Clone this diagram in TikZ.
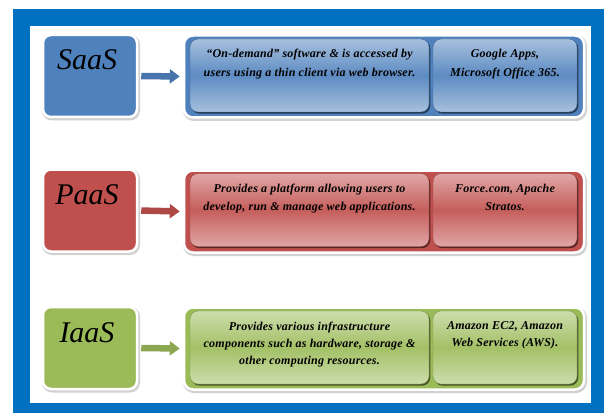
\documentclass[tikz,border=0pt]{standalone}
\usepackage{fontspec}
\setmainfont{Liberation Serif}
\usetikzlibrary{arrows.meta}
\definecolor{frameblue}{HTML}{0070C0}
\definecolor{sblue}{HTML}{4F81BD}
\definecolor{pred}{HTML}{C0504D}
\definecolor{igreen}{HTML}{9BBB59}
\begin{document}
\begin{tikzpicture}[x=1pt,y=-1pt,
  lbox/.style={rounded corners=8pt, fill=#1, draw=white, line width=2.5pt,
    minimum width=94pt, minimum height=82pt, inner sep=0pt,
    preaction={draw=black!18, line width=4pt, transform canvas={shift={(1pt,-1.5pt)}}}},
  rbox/.style={rounded corners=9pt, fill=#1, draw=white, line width=2.5pt,
    minimum width=400pt, minimum height=82pt, inner sep=0pt,
    preaction={draw=black!18, line width=4pt, transform canvas={shift={(1pt,-1.5pt)}}}},
  subbox/.style={rounded corners=8pt, top color=#1!50!white, bottom color=#1!50!white, middle color=#1!92!white,
    draw=#1!80!black, line width=0.4pt, inner sep=0pt, minimum height=73pt,
    preaction={fill=#1!45!black, transform canvas={shift={(1.3pt,-1.6pt)}}}},
  bigtxt/.style={font=\fontsize{30}{34}\selectfont\itshape, inner sep=0pt},
  smalltxt/.style={font=\fontsize{12}{#1}\selectfont\bfseries\itshape\addfontfeature{LetterSpace=2},
    align=center, inner sep=0pt, anchor=north},
  arr/.style={draw=#1!90!black, line width=6.5pt, shorten <=3pt, shorten >=3pt,
    -{Triangle[length=10pt,width=14pt]}}
]
\useasboundingbox (0,0) rectangle (604,414);
\fill[white] (0,0) rectangle (604,414);
\fill[frameblue] (13,9) rectangle (604,413);
\fill[white] (30,26) rectangle (591,403);

% SaaS row
\node[lbox=sblue] (saas) at (90,76) {};
\node[bigtxt] (saasT) at (87,60) {SaaS};
\node[rbox=sblue] (saasR) at (384,76.5) {};
\node[subbox=sblue, minimum width=239pt] (saasA) at (309.5,75.5) {};
\node[subbox=sblue, minimum width=144pt] (saasB) at (505,75.5) {};
\node[smalltxt=19] (saasAt) at (309.5,48.5) {“On-demand” software \& is accessed by\\users using a thin client via web browser.};
\node[smalltxt=19] (saasBt) at (505,48.5) {Google Apps,\\Microsoft Office 365.};
\draw[arr=sblue] (saas.east) -- (saasR.west);

% PaaS row
\node[lbox=pred] (paas) at (90,210.5) {};
\node[bigtxt] (paasT) at (87,195) {PaaS};
\node[rbox=pred] (paasR) at (384,211.5) {};
\node[subbox=pred, minimum width=239pt] (paasA) at (309.5,210) {};
\node[subbox=pred, minimum width=144pt] (paasB) at (505,210) {};
\node[smalltxt=18] (paasAt) at (309.5,183.5) {Provides a platform allowing users to\\develop, run \& manage web applications.};
\node[smalltxt=18] (paasBt) at (505,183.5) {Force.com, Apache\\Stratos.};
\draw[arr=pred] (paas.east) -- (paasR.west);

% IaaS row
\node[lbox=igreen] (iaas) at (90,348) {};
\node[bigtxt] (iaasT) at (87,333) {IaaS};
\node[rbox=igreen] (iaasR) at (384,348.5) {};
\node[subbox=igreen, minimum width=239pt] (iaasA) at (309.5,347.5) {};
\node[subbox=igreen, minimum width=144pt] (iaasB) at (505,347.5) {};
\node[smalltxt=17] (iaasAt) at (309.5,321.5) {Provides various infrastructure\\components such as hardware, storage \&\\other computing resources.};
\node[smalltxt=17] (iaasBt) at (505,321.5) {Amazon EC2, Amazon\\Web Services (AWS).};
\draw[arr=igreen] (iaas.east) -- (iaasR.west);
\end{tikzpicture}
\end{document}
